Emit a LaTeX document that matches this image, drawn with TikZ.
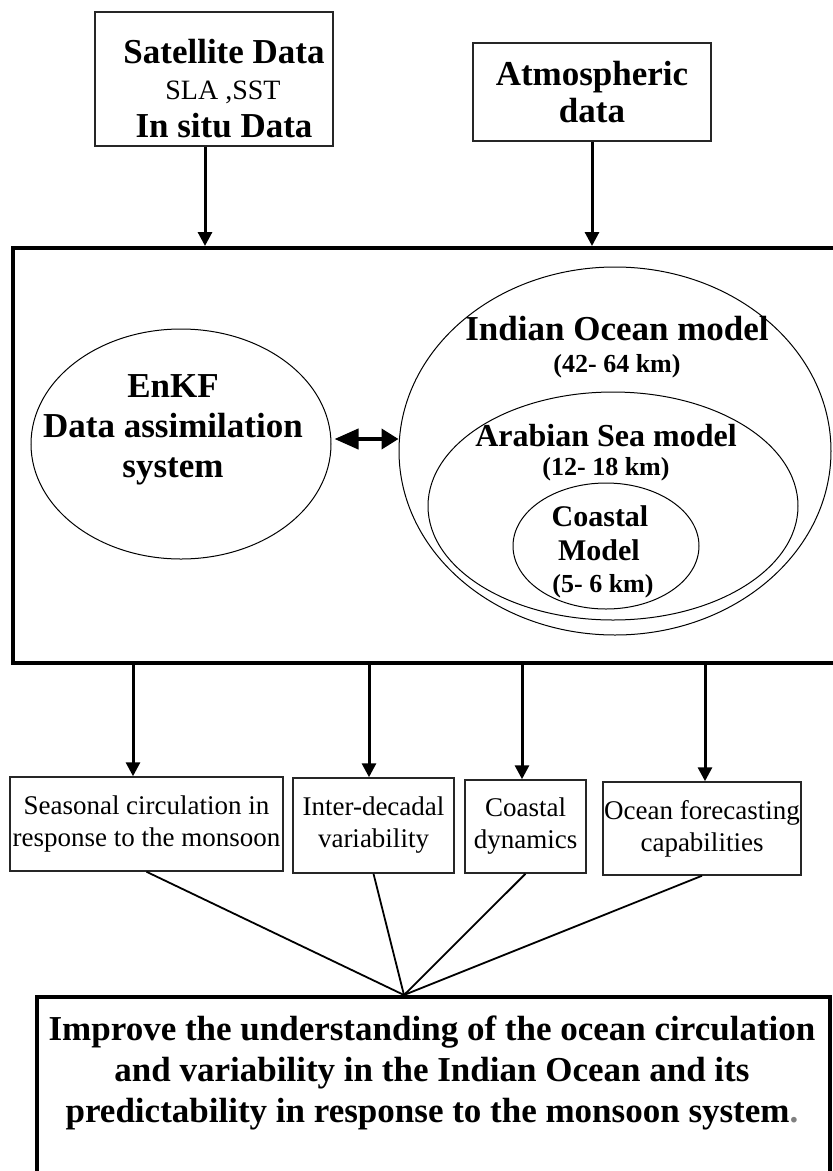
\documentclass[tikz,border=0pt]{standalone}
\usepackage{fontspec}
\setmainfont{Liberation Serif}
\usetikzlibrary{arrows.meta}
\usetikzlibrary{shapes.geometric}

\begin{document}
\begin{tikzpicture}[x=1pt,y=-1pt,
 box/.style={draw=black!85, line width=1.5pt, inner sep=0, align=center},
 outfont/.style={font=\fontsize{27}{32}\selectfont},
 frame/.style={draw, line width=4pt, inner sep=0},
 oval/.style={draw, ellipse, line width=1pt, inner sep=0},
 flow/.style={line width=3pt, ->, >={Triangle[length=14pt,width=14pt]}},
 btxt/.style={font=\fontsize{#1}{#1}\bfseries\selectfont, anchor=base, inner sep=0},
 rtxt/.style={font=\fontsize{#1}{#1}\selectfont, anchor=base, inner sep=0}]
\useasboundingbox (0,0) rectangle (833,1171);

\node[box, minimum width=238, minimum height=134] (sat) at (214,79) {};
\node[btxt=35] (sat1) at (224,63) {Satellite Data};
\node[rtxt=28] (sat2) at (223,99) {SLA ,SST};
\node[btxt=35] (sat3) at (224,137) {In situ Data};
\node[box, minimum width=238, minimum height=98, font=\fontsize{35}{37}\bfseries\selectfont] (atm) at (592,92) {Atmospheric\\data};

\node[frame, minimum width=837, minimum height=415] (main) at (431.5,455.5) {};
\draw[flow] ([xshift=-9]sat.south) -- ([xshift=-9]sat.south |- main.north);
\draw[flow] (atm.south) -- (atm.south |- main.north);

\node[oval, minimum width=300, minimum height=230] (enkf) at (181,444) {};
\node[align=center, font=\fontsize{35}{40}\bfseries\selectfont, inner sep=0] (enkftxt) at (173,430) {EnKF\\Data assimilation\\system};
\node[oval, minimum width=432, minimum height=368] (io) at (615,451) {};
\node[oval, minimum width=370, minimum height=228] (as) at (613,506) {};
\node[oval, minimum width=186, minimum height=126] (cm) at (606,546) {};
\node[btxt=35] (io1) at (617,340) {Indian Ocean model};
\node[btxt=26] (io2) at (617,372) {(42- 64 km)};
\node[btxt=32] (as1) at (606,446) {Arabian Sea model};
\node[btxt=26] (as2) at (606,475) {(12- 18 km)};
\node[btxt=30] (cm1) at (600,526) {Coastal};
\node[btxt=30] (cm2) at (599,560) {Model};
\node[btxt=26] (cm3) at (603,592) {(5- 6 km)};
\draw[line width=4pt, {Triangle[length=24pt,width=20pt]}-{Triangle[length=17pt,width=20pt]}] ([shift={(3,-5)}]enkf.east) -- ([shift={(0,-12)}]io.west);

\node[box, outfont, minimum width=273, minimum height=94] (sea) at (146.5,824) {Seasonal circulation in\\response to the monsoon};
\node[box, outfont, minimum width=161, minimum height=95] (dec) at (373.5,825.5) {Inter-decadal\\variability};
\node[box, outfont, minimum width=121, minimum height=93] (coa) at (525.5,826.5) {Coastal\\dynamics};
\node[box, outfont, minimum width=198, minimum height=93] (fore) at (702,828.5) {Ocean forecasting\\capabilities};

\node[frame, minimum width=793, minimum height=260] (goal) at (433.5,1127) {};
\node[align=center, font=\fontsize{35}{41}\bfseries\selectfont, inner sep=0] (goaltxt) at (432,1073) {Improve the understanding of the ocean circulation\\and variability in the Indian Ocean and its\\predictability in response to the monsoon system{\color{black!50}.}};
\coordinate (meet) at (goal.north -| 404,0);

\foreach \n/\x in {sea/133,dec/369,coa/522,fore/705} {
 \draw[flow] (main.south -| \x,0) -- (\n.north -| \x,0);
 \draw[line width=1.8pt] (\n.south) -- (meet);
}
\end{tikzpicture}
\end{document}
